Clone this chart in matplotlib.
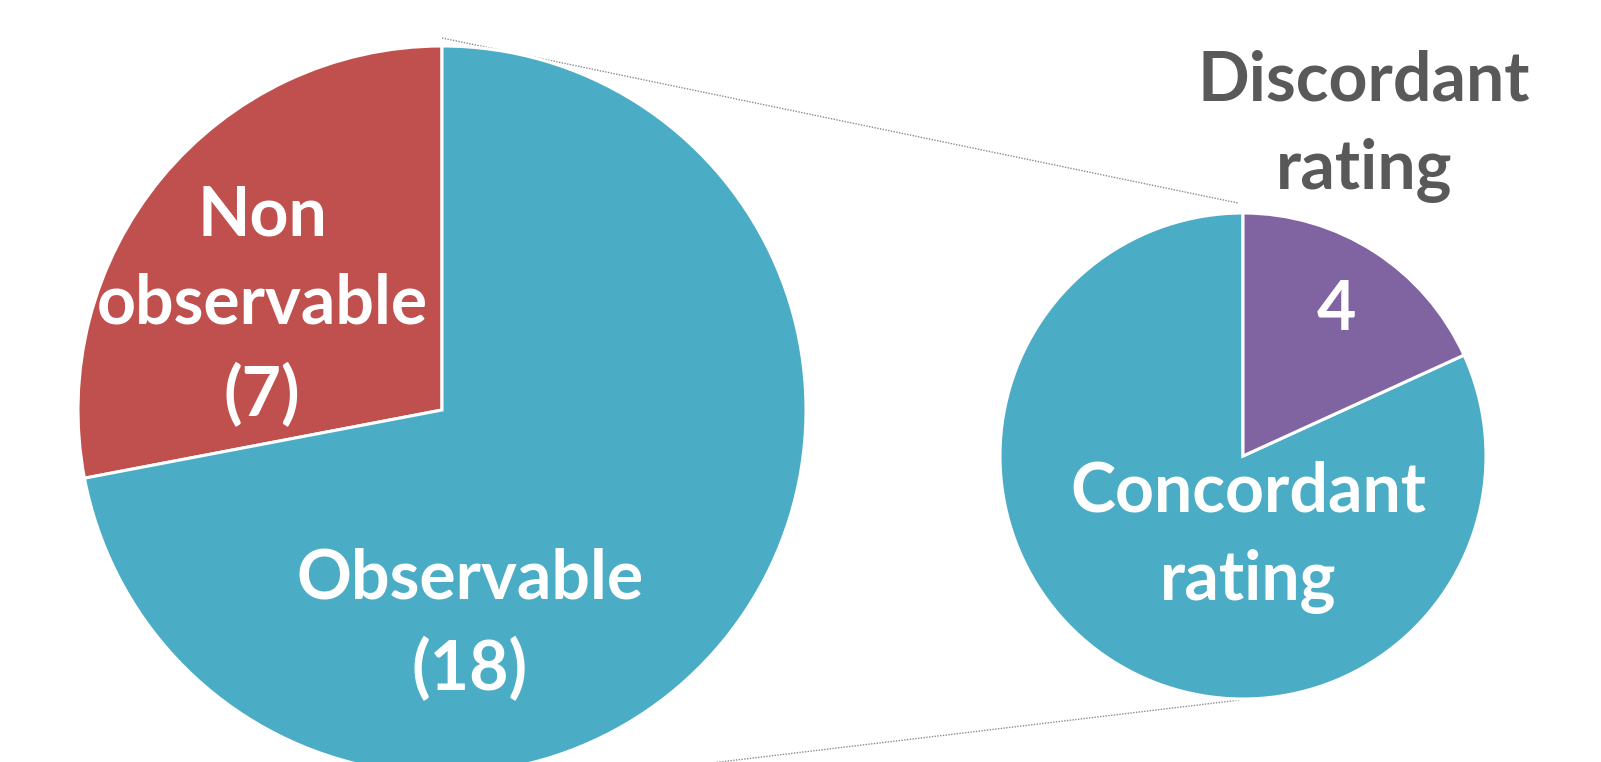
"""
Pie-of-pie: observability of items and rating agreement among them.
Writes out.png (1601x762).
"""
import matplotlib
matplotlib.use("Agg")
import matplotlib.pyplot as plt

W, H = 1601, 762

# main pie
MAIN_LABELS = ["Non\nobservable", "Observable"]
MAIN_VALUES = [7, 18]
MAIN_COLORS = ["#C0504D", "#4BACC6"]

# secondary pie
SUB_LABELS = ["Concordant\nrating", "Discordant\nrating"]
SUB_VALUES = [18, 4]
SUB_COLORS = ["#4BACC6", "#8064A2"]

FONT = "Lato"
FS = 49
GRAY = "#595959"

# geometry in pixels (y measured from top)
L_C, L_R = (442, 410), 364
R_C, R_R = (1243, 456), 243


def py(y):
    return H - y


fig = plt.figure(figsize=(W / 100, H / 100), dpi=100)
ax = fig.add_axes([0, 0, 1, 1])

wp = dict(edgecolor="white", linewidth=2.2)
ax.pie(MAIN_VALUES, colors=MAIN_COLORS, startangle=90, counterclock=True,
       center=(L_C[0], py(L_C[1])), radius=L_R, wedgeprops=wp, frame=True)
ax.pie(SUB_VALUES, colors=SUB_COLORS, startangle=90, counterclock=True,
       center=(R_C[0], py(R_C[1])), radius=R_R, wedgeprops=wp, frame=True)
ax.set_xlim(0, W)
ax.set_ylim(0, H)
ax.set_aspect("equal")
ax.axis("off")

# connector lines
line_kw = dict(color="#8c8c8c", lw=1.0, ls=(0, (1, 1)), zorder=0)
ax.plot([L_C[0], R_C[0] - 5], [py(L_C[1] - L_R - 8), py(R_C[1] - R_R - 10)], **line_kw)
ax.plot([560, R_C[0] - 3], [py(781), py(R_C[1] + R_R + 1)], **line_kw)

txt = dict(fontfamily=FONT, fontweight="bold", fontsize=FS, ha="center",
           va="center", linespacing=1.5)
ax.text(262, py(306), f"{MAIN_LABELS[0]}\n({MAIN_VALUES[0]})", color="white", **txt)
ax.text(470, py(625), f"{MAIN_LABELS[1]}\n({MAIN_VALUES[1]})", color="white", **txt)
ax.text(1336, py(310), f"{SUB_VALUES[1]}", color="white", **txt)
ax.text(1248, py(537), SUB_LABELS[0], color="white", **txt)
ax.text(1364, py(126), SUB_LABELS[1], color=GRAY, **txt)

fig.savefig("out.png", dpi=100)
